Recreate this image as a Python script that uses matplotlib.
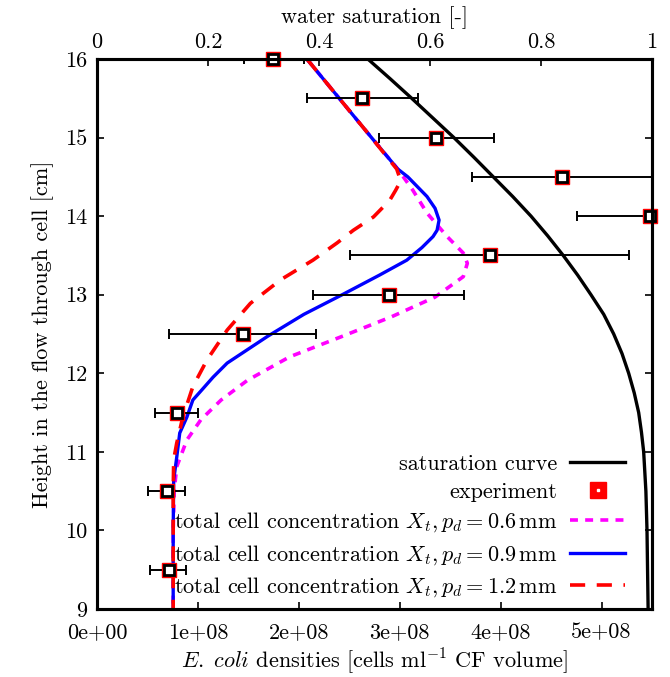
import numpy as np
import matplotlib
matplotlib.use('Agg')
import matplotlib.pyplot as plt
from matplotlib.lines import Line2D

plt.rcParams['font.family'] = 'serif'
plt.rcParams['font.serif'] = ['cmr10']
plt.rcParams['mathtext.fontset'] = 'cm'
plt.rcParams['axes.formatter.use_mathtext'] = True

# saturation curve (top axis, water saturation)
sat_height = [16.0, 15.75, 15.5, 15.25, 15.0, 14.75, 14.5, 14.25, 14.0, 13.75, 13.5, 13.25,
              13.0, 12.75, 12.5, 12.25, 12.0, 11.75, 11.5, 11.25, 11.0, 10.75, 10.5, 10.0, 9.5, 9.0]
sat_value = [0.488, 0.528, 0.567, 0.605, 0.643, 0.679, 0.714, 0.749, 0.782, 0.812, 0.840, 0.866,
             0.890, 0.913, 0.931, 0.946, 0.958, 0.968, 0.976, 0.981, 0.985, 0.987, 0.989, 0.991,
             0.992, 0.993]

# experiment (bottom axis, cells per ml, in 1e8)
exp_height = [16.0, 15.5, 15.0, 14.5, 14.0, 13.5, 13.0, 12.5, 11.5, 10.5, 9.5]
exp_value = [1.746, 2.63, 3.36, 4.61, 5.48, 3.89, 2.89, 1.45, 0.79, 0.69, 0.71]
exp_low = [1.46, 2.08, 2.79, 3.72, 4.76, 2.51, 2.14, 0.71, 0.575, 0.51, 0.53]
exp_high = [2.05, 3.18, 3.93, 5.50, 6.20, 5.27, 3.64, 2.17, 1.00, 0.87, 0.88]

# simulations, p_d = 0.6 mm
h06 = [16.0, 15.5, 15.0, 14.6, 14.33, 14.04, 13.74, 13.53, 13.40, 13.23, 12.97, 12.72,
       12.46, 12.21, 11.91, 11.66, 11.41, 11.15, 10.81, 10.5, 10.0, 9.0]
x06 = [2.08, 2.40, 2.72, 2.98, 3.13, 3.27, 3.47, 3.63, 3.67, 3.63, 3.35, 2.92,
       2.41, 1.91, 1.49, 1.23, 1.03, 0.89, 0.79, 0.765, 0.755, 0.755]

# p_d = 0.9 mm
h09 = [16.0, 15.5, 15.0, 14.6, 14.5, 14.25, 14.1, 13.95, 13.82, 13.74, 13.6, 13.44, 13.25,
       13.0, 12.75, 12.47, 12.13, 11.95, 11.79, 11.66, 11.44, 11.24, 10.93, 10.64, 10.0, 9.0]
x09 = [2.08, 2.40, 2.72, 2.98, 3.08, 3.27, 3.35, 3.39, 3.37, 3.33, 3.22, 3.07, 2.80,
       2.43, 2.05, 1.69, 1.29, 1.15, 1.04, 0.95, 0.89, 0.82, 0.79, 0.76, 0.755, 0.755]

# p_d = 1.2 mm
h12 = [16.0, 15.5, 15.0, 14.6, 14.45, 14.33, 14.2, 13.99, 13.82, 13.66, 13.44, 13.19,
       12.89, 12.55, 12.17, 11.83, 11.44, 11.11, 10.9, 10.5, 9.0]
x12 = [2.08, 2.40, 2.72, 2.97, 3.01, 2.96, 2.90, 2.74, 2.54, 2.38, 2.14, 1.82,
       1.52, 1.29, 1.09, 0.95, 0.85, 0.79, 0.76, 0.755, 0.755]

bottom_ticks = [0, 1e8, 2e8, 3e8, 4e8, 5e8]
bottom_labels = ['0e+00', '1e+08', '2e+08', '3e+08', '4e+08', '5e+08']
top_ticks = [0, 0.2, 0.4, 0.6, 0.8, 1.0]
top_labels = ['0', '0.2', '0.4', '0.6', '0.8', '1']
y_ticks = [9, 10, 11, 12, 13, 14, 15, 16]

scale = 1e8
fs = 16

fig = plt.figure(figsize=(6.70, 6.77), dpi=100)
ax = fig.add_axes([97 / 670, 1 - 609 / 677, 555 / 670, 550 / 677])

ax.plot(np.array(x06) * scale, h06, color='#ff00ff', lw=2.6, ls=(0, (2.2, 2.0)))
ax.plot(np.array(x09) * scale, h09, color='#0000ff', lw=2.4, solid_capstyle='butt')
ax.plot(np.array(x12) * scale, h12, color='#ff0000', lw=2.6, ls=(0, (4.2, 3.2)))

ev = np.array(exp_value) * scale
err = [ev - np.array(exp_low) * scale, np.array(exp_high) * scale - ev]
ax.errorbar(ev, exp_height, xerr=err, fmt='none', ecolor='black', elinewidth=1.4,
            capsize=3.5, capthick=1.4)
ax.plot(ev, exp_height, ls='none', marker='s', ms=10, mfc='red', mec='red', clip_on=False, zorder=5)
ax.plot(ev, exp_height, ls='none', marker='s', ms=7, mfc='white', mec='black', mew=2.0,
        clip_on=False, zorder=6)

ax.set_xlim(0, 5.5e8)
ax.set_ylim(9, 16)
ax.set_xticks(bottom_ticks)
ax.set_xticklabels(bottom_labels)
ax.set_yticks(y_ticks)
ax.set_yticklabels([str(v) for v in y_ticks])
ax.tick_params(direction='in', length=5, width=1.2, labelsize=fs, pad=7, right=True)
ax.tick_params(axis='x', pad=10)
ax.set_xlabel(r'$\mathit{E.\ coli}$ densities [cells ml$^{-1}$ CF volume]', fontsize=fs, labelpad=3)
ax.set_ylabel('Height in the flow through cell [cm]', fontsize=fs, labelpad=8)
for s in ax.spines.values():
    s.set_linewidth(2.2)

top = ax.twiny()
top.plot(sat_value, sat_height, color='black', lw=2.4)
top.set_xlim(0, 1)
top.set_xticks(top_ticks)
top.set_xticklabels(top_labels)
top.tick_params(direction='in', length=5, width=1.2, labelsize=fs, pad=5)
top.set_xlabel('water saturation [-]', fontsize=fs, labelpad=7)
for s in top.spines.values():
    s.set_linewidth(2.2)

h_sat = Line2D([], [], color='black', lw=2.4)
h_exp = (Line2D([], [], ls='none', marker='s', ms=12, mfc='red', mec='red'),
         Line2D([], [], ls='none', marker='s', ms=2, mfc='white', mec='white'))
h_06 = Line2D([], [], color='#ff00ff', lw=2.6, ls=(0, (2.2, 2.0)))
h_09 = Line2D([], [], color='#0000ff', lw=2.4)
h_12 = Line2D([], [], color='#ff0000', lw=2.6, ls=(0, (4.2, 3.2)))
labels = ['saturation curve', 'experiment',
          r'total cell concentration $X_t, p_d = 0.6\,\mathrm{mm}$',
          r'total cell concentration $X_t, p_d = 0.9\,\mathrm{mm}$',
          r'total cell concentration $X_t, p_d = 1.2\,\mathrm{mm}$']
top.legend([h_sat, h_exp, h_06, h_09, h_12], labels, loc='lower right',
           bbox_to_anchor=(0.98, -0.01), frameon=False, markerfirst=False,
           fontsize=fs, handlelength=2.5, handletextpad=0.55, labelspacing=0.38,
           borderpad=0.2)

fig.savefig('out.png', dpi=100)
